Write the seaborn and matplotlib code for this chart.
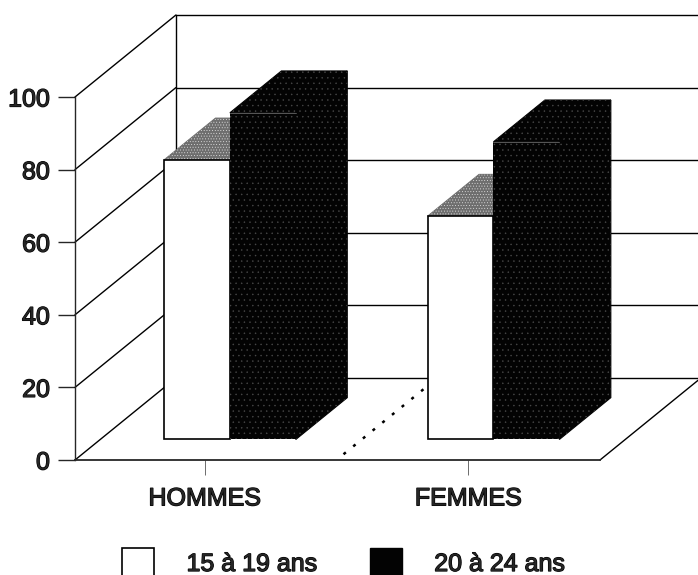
import matplotlib

matplotlib.use("Agg")
import matplotlib.patheffects as pe
import matplotlib.pyplot as plt
import pandas as pd
import seaborn as sns
from matplotlib.patches import Patch, Polygon

GROUPS = ["HOMMES", "FEMMES"]
AGES = ["15 à 19 ans", "20 à 24 ans"]
VALUES_15_19 = [77, 61.5]
VALUES_20_24 = [90, 82]
Y_TICKS = [0, 20, 40, 60, 80, 100]

# depth of the fake 3D box, in data units
DX = 0.383
DY = 22.6
BAR_FRONT = 0.25
BAR_BACK = 0.76
DARK = "#030303"
SPECK = "#4a4a4a"

sns.set_style("ticks")
plt.rcParams["font.family"] = ["Liberation Sans", "DejaVu Sans"]
plt.rcParams["hatch.linewidth"] = 0.3

df = pd.DataFrame(
    {
        "group": GROUPS * 2,
        "age": [AGES[0]] * 2 + [AGES[1]] * 2,
        "value": VALUES_15_19 + VALUES_20_24,
    }
)

W, H = 698, 575
fig = plt.figure(figsize=(W / 100, H / 100), dpi=100)
ax = fig.add_axes([75 / W, (H - 460) / H, 525 / W, 363 / H])

sns.barplot(
    data=df,
    x="group",
    y="value",
    hue="age",
    palette={AGES[0]: "white", AGES[1]: DARK},
    width=0.5,
    gap=0,
    legend=False,
    ax=ax,
    zorder=5,
)
ax.set_xlim(-0.492, 1.5)
ax.set_ylim(0, 100)
x0, x1 = ax.get_xlim()

# walls and floor
for v in Y_TICKS:
    ax.plot([x0, x0 + DX], [v, v + DY], color="black", lw=1, clip_on=False, zorder=1)
    ax.plot([x0 + DX, x1 + DX], [v + DY, v + DY], color="black", lw=1, clip_on=False, zorder=1)
ax.plot([x0 + DX, x0 + DX], [DY, 100 + DY], color="black", lw=1, clip_on=False, zorder=1)
ax.plot([x1, x1 + DX], [0, DY], color="black", lw=1, clip_on=False, zorder=1)
ax.plot(
    [0.5 + 0.07 * DX, 0.5 + 0.93 * DX],
    [0.07 * DY, 0.93 * DY],
    color="black",
    lw=1.8,
    ls=(0, (1.2, 3.8)),
    clip_on=False,
    zorder=1,
)


def shade(points, face, hatch_color, hatch, zorder):
    # solid patch first so neighbouring faces leave no seam
    ax.add_patch(Polygon(points, closed=True, facecolor=face, edgecolor=face, lw=0.8,
                         clip_on=False, zorder=zorder))
    ax.add_patch(Polygon(points, closed=True, facecolor="none", edgecolor=hatch_color, hatch=hatch,
                         lw=0, clip_on=False, zorder=zorder))


# push the fronts back from the floor edge, then add tops and sides
for i, container in enumerate(ax.containers):
    for bar in container:
        bar.set_x(bar.get_x() + BAR_FRONT * DX)
        bar.set_y(BAR_FRONT * DY)
        bar.set_clip_on(False)
        x, y = bar.get_x(), bar.get_y()
        w, h = bar.get_width(), bar.get_height()
        off_x = (BAR_BACK - BAR_FRONT) * DX
        off_y = (BAR_BACK - BAR_FRONT) * DY
        top = [(x, y + h), (x + w, y + h), (x + w + off_x, y + h + off_y), (x + off_x, y + h + off_y)]
        if i == 0:
            bar.set_edgecolor("black")
            bar.set_linewidth(1.2)
            bar.set_zorder(4)
            shade(top, "#6e6e6e", "#e6e6e6", "......", 3)
        else:
            bar.set_hatch("...")
            bar.set_edgecolor(SPECK)
            bar.set_linewidth(0)
            side = [(x + w, y), (x + w + off_x, y + off_y), (x + w + off_x, y + h + off_y), (x + w, y + h)]
            shade(top, DARK, SPECK, "...", 5)
            shade(side, DARK, SPECK, "...", 5)
            ax.plot([x, x + w], [y + h, y + h], color="#666666", lw=0.6, zorder=6, clip_on=False)

semi = [pe.withStroke(linewidth=0.9, foreground="black")]

sns.despine(ax=ax)
ax.spines["left"].set_linewidth(1)
ax.spines["bottom"].set_linewidth(1.3)
ax.set_xlabel("")
ax.set_ylabel("")
ax.set_yticks(Y_TICKS)
ax.tick_params(axis="y", length=12, width=1, pad=6, labelsize=18)
ax.tick_params(axis="x", length=11, width=0.6, pad=8, labelsize=18, color="#555555")
for label in ax.get_yticklabels() + ax.get_xticklabels():
    label.set_path_effects(semi)

handles = [
    Patch(facecolor="white", edgecolor="black", lw=1.2),
    Patch(facecolor=DARK, edgecolor=DARK, lw=1),
]
leg = fig.legend(
    handles,
    AGES,
    loc="lower left",
    bbox_to_anchor=(122 / W, -3 / H),
    bbox_transform=fig.transFigure,
    ncol=2,
    frameon=False,
    fontsize=18,
    handlelength=1.28,
    handleheight=1.5,
    handletextpad=1.3,
    columnspacing=2.1,
    borderpad=0,
    borderaxespad=0,
)
for text in leg.get_texts():
    text.set_path_effects(semi)

fig.savefig("out.png", dpi=100)
